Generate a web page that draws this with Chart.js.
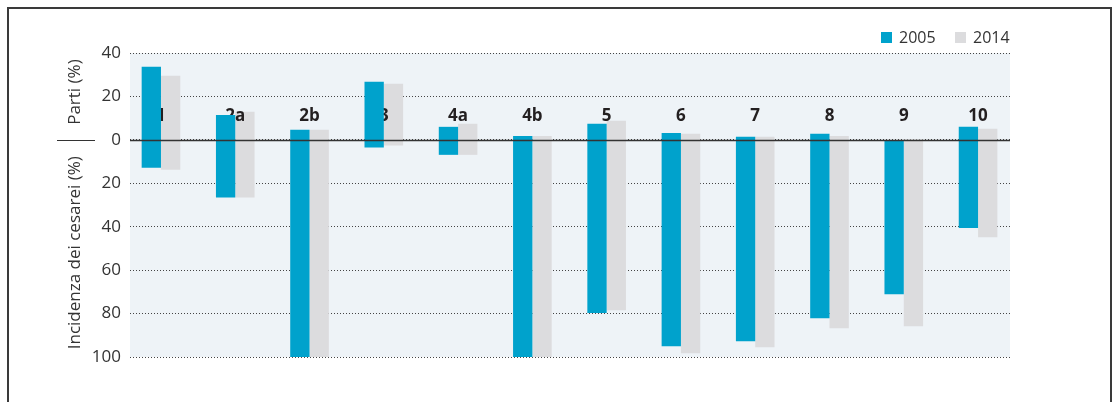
<!DOCTYPE html>
<html>
<head>
<meta charset="utf-8">
<script src="https://cdn.jsdelivr.net/npm/chart.js@4"></script>
<style>
    html, body { margin: 0; padding: 0; background: #fff; }
    #wrap { width: 1114px; height: 402px; }
</style>
</head>
<body>
<div id="wrap"><canvas id="c" width="1114" height="402"></canvas></div>
<script>
// classes (Robson) on the x axis
let classes = ['1', '2a', '2b', '3', '4a', '4b', '5', '6', '7', '8', '9', '10'];

// share of births per class (%), drawn above zero
let parti2005 = [33.7, 11.5, 4.6, 26.8, 6.0, 1.8, 7.4, 3.2, 1.4, 2.8, 0.0, 6.0];
let parti2014 = [29.5, 12.9, 4.6, 25.8, 7.4, 1.8, 8.8, 2.8, 1.4, 1.8, 0.2, 5.1];

// caesarean rate per class (%), drawn below zero
let cesarei2005 = [12.8, 26.6, 100, 3.5, 6.9, 100, 79.7, 95.1, 92.8, 82.2, 71.1, 40.6];
let cesarei2014 = [13.8, 26.6, 100, 2.6, 6.9, 100, 78.5, 98.3, 95.5, 86.8, 85.8, 44.8];

let yTickValues = [40, 20, 0, -20, -40, -60, -80, -100];

const
    blue = '#00a2cc',
    grey = '#dcdcde',
    ink = '#231f20',
    fontFamily = "'Open Sans', sans-serif";

function floating(parti, cesarei) {
    return parti.map((p, i) => ({ x: i, y: [-cesarei[i], p] }));
}

const frameAndBackground = {
    id: 'frameAndBackground',
    beforeDraw(chart) {
        const { ctx, chartArea: { left, top, width, height } } = chart;
        ctx.save();
        ctx.fillStyle = '#eef3f7';
        ctx.fillRect(left, top, width, height);
        ctx.strokeStyle = '#3a3a3a';
        ctx.lineWidth = 2;
        ctx.strokeRect(8, 8, 1103, 420);
        ctx.restore();
    }
};

// class labels sit between the grey (drawn first) and the blue bars
const classLabels = {
    id: 'classLabels',
    beforeDatasetDraw(chart, args) {
        if (args.index !== 0) {
            return;
        }
        const { ctx, scales: { x, y } } = chart;
        ctx.save();
        ctx.font = 'bold 17px ' + fontFamily;
        ctx.fillStyle = ink;
        ctx.textAlign = 'center';
        ctx.textBaseline = 'middle';
        classes.forEach((label, i) => {
            ctx.fillText(label, x.getPixelForValue(i), y.getPixelForValue(11));
        });
        ctx.restore();
    }
};

const zeroLineAndTitles = {
    id: 'zeroLineAndTitles',
    afterDatasetsDraw(chart) {
        const { ctx, chartArea: { left, right }, scales: { y } } = chart;
        const y0 = Math.round(y.getPixelForValue(0)) + 0.5;
        ctx.save();
        ctx.strokeStyle = '#333';
        ctx.lineWidth = 1.5;
        ctx.beginPath();
        ctx.moveTo(left, y0);
        ctx.lineTo(right, y0);
        ctx.stroke();

        // split axis title
        ctx.lineWidth = 1;
        ctx.beginPath();
        ctx.moveTo(57, y0);
        ctx.lineTo(95, y0);
        ctx.stroke();

        ctx.font = '17px ' + fontFamily;
        ctx.fillStyle = '#333';
        ctx.textAlign = 'center';
        ctx.textBaseline = 'middle';
        ctx.translate(75, 0);
        ctx.rotate(-Math.PI / 2);
        ctx.fillText('Parti (%)', -y.getPixelForValue(22), 0);
        ctx.fillText('Incidenza dei cesarei (%)', -y.getPixelForValue(-52), 0);
        ctx.restore();
    }
};

const topLegend = {
    id: 'topLegend',
    afterDraw(chart) {
        const { ctx } = chart;
        ctx.save();
        ctx.font = '16px ' + fontFamily;
        ctx.textBaseline = 'middle';
        let xPos = 881;
        chart.data.datasets.forEach((ds) => {
            ctx.fillStyle = ds.backgroundColor;
            ctx.fillRect(xPos, 32, 11, 11);
            ctx.fillStyle = '#333';
            ctx.fillText(ds.label, xPos + 18, 38);
            xPos += 74;
        });
        ctx.restore();
    }
};

new Chart(document.getElementById('c').getContext('2d'), {
    type: 'bar',
    plugins: [frameAndBackground, classLabels, zeroLineAndTitles, topLegend],
    data: {
        datasets: [
            {
                label: '2005',
                data: floating(parti2005, cesarei2005),
                backgroundColor: blue,
                borderWidth: 0
            },
            {
                label: '2014',
                data: floating(parti2014, cesarei2014),
                backgroundColor: grey,
                borderWidth: 0
            }
        ]
    },
    options: {
        responsive: false,
        animation: false,
        devicePixelRatio: 1,
        layout: {
            padding: { left: 0, right: 104, top: 53, bottom: 45 }
        },
        datasets: {
            bar: {
                categoryPercentage: 0.52,
                barPercentage: 1.0,
                grouped: true
            }
        },
        plugins: {
            legend: { display: false },
            tooltip: { enabled: false }
        },
        scales: {
            x: {
                type: 'linear',
                offset: false,
                min: -0.417,
                max: 11.43,
                display: false
            },
            y: {
                min: -100,
                max: 40,
                afterFit(scale) {
                    scale.width = 130;
                },
                afterBuildTicks(scale) {
                    scale.ticks = yTickValues.map(v => ({ value: v }));
                },
                ticks: {
                    padding: 9,
                    color: '#333',
                    font: { family: fontFamily, size: 17 },
                    callback: function(value) {
                        return Math.abs(value).toString();
                    }
                },
                grid: {
                    color: '#444',
                    lineWidth: 1,
                    drawTicks: false
                },
                border: {
                    display: false,
                    dash: [1, 2]
                }
            }
        }
    }
});
</script>
</body>
</html>
